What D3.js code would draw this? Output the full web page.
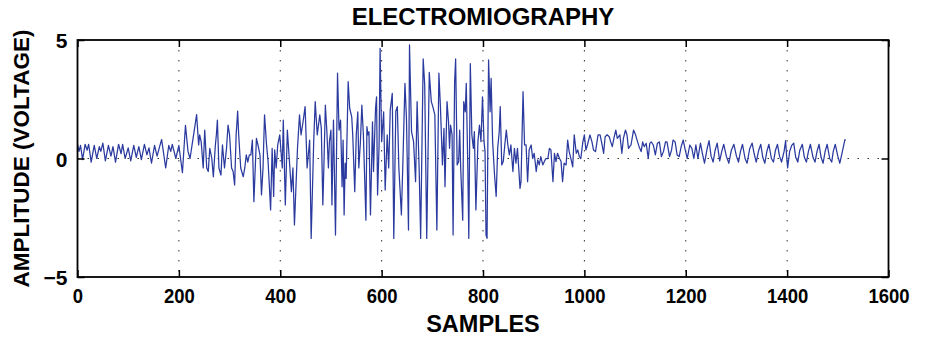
<!DOCTYPE html>
<html>
<head>
<meta charset="utf-8">
<script src="https://cdn.jsdelivr.net/npm/d3@7"></script>
<style>
  body { margin: 0; background: #fff; }
  svg text { font-family: "Liberation Sans", Arial, Helvetica, sans-serif; font-weight: bold; fill: #000; }
</style>
</head>
<body>
<svg width="927" height="338"></svg>
<script>
// labels
var chartTitle = "ELECTROMIOGRAPHY",
	xLabel = "SAMPLES",
	yLabel = "AMPLITUDE (VOLTAGE)";

var xTicks = [0, 200, 400, 600, 800, 1000, 1200, 1400, 1600],
	yTicks = [-5, 0, 5];

// [sample, amplitude], segment by segment
var restStart = [[0,0.6],[3,0.3],[6,0.55],[10,-0.05],[15,0.6],[19,0.35],[22,0.6],[27,-0.15],[33,0.55],[38,0],
	[43,0.5],[46,0.3],[50,0.65],[55,-0.1],[61,0.55],[66,0.1],[70,0.5],[75,-0.15],[81,0.6],[86,0.2],
	[89,0.6],[94,0],[100,0.45],[105,-0.1],[111,0.55],[116,0.05],[121,0.5],[126,-0.05],[132,0.6],[137,0.15],
	[141,0.45],[146,-0.2],[152,0.55],[157,0.1],[162,0.5],[166,0.8],[170,0.2],[174,-0.4],[180,0.55],[184,0.3],
	[187,0.6],[194,0],[200,0.55],[207,-0.6]];

var burst = [[213,1.4],[218,0.3],[222,0],[228,0.85],[235,1.85],[239,0.57],[241,1.0],[244,0.7],[248,-0.4],[251,1.2],
	[255,-0.4],[258,-0.55],[261,0.43],[265,0],[268,-0.77],[272,0.57],[274,1.0],[276,1.62],[279,-0.4],[283,-0.7],
	[286,0.57],[290,-0.4],[294,0.43],[297,1.41],[300,1.0],[304,-0.4],[307,-0.55],[310,-1.12],[313,1.0],[316,2.0],
	[318,1.0],[322,-0.4],[327,-0.77],[330,-0.4],[333,0.15],[336,-0.15],[339,0.15],[342,0.15],[345,0.78],[348,-1.82],
	[353,0.85],[356,0.57],[360,0.15],[363,-1.54],[366,-0.4],[369,1.84],[373,0.57],[376,-0.13],[381,-2.17],[384,0.43],
	[387,-1.6],[389,0.36],[392,-0.4],[395,0.57],[399,1.0],[404,-0.4],[406,1.62],[410,-1.96],[414,1.2],[419,-0.4],
	[422,-1.4],[425,-0.4],[428,-2.8],[434,0.43],[438,1.84],[441,1.0],[445,1.55],[449,2.19],[453,-0.4],[458,0.78],
	[461,-3.37],[466,0.71],[469,2.4],[473,1.0],[478,1.84],[481,1.27],[484,-1.96],[486,-0.4],[489,2.25],[492,1.13],
	[495,-0.4],[497,0.71],[500,1.2],[502,-1.96],[505,1.62],[509,-3.23],[513,3.6],[516,1.2],[519,1.62],[522,-1.19],
	[524,0.78],[526,-2.38],[528,-0.2],[530,-0.84],[534,3.24],[537,2.12],[541,1.76],[543,1.0],[547,-1.4],[550,1.0],
	[553,1.97],[555,-0.4],[558,0.64],[561,2.25],[564,1.0],[569,-2.6],[571,1.34],[573,1.0],[575,1.13],[578,-2.38],
	[582,1.55],[584,-0.55],[588,2.12],[590,2.6],[592,-1.54],[595,0.57],[597,4.65],[600,0.71],[604,1.97],[607,-1.33],
	[611,1.0],[614,-0.4],[617,2.05],[621,2.75],[624,-3.37],[628,2.0],[631,2.19],[634,-0.4],[639,-2.38],[642,-0.13],
	[646,3.17],[649,1.69],[653,-3.02],[655,4.79],[659,1.13],[663,0.71],[667,-0.98],[670,2.4],[674,-0.4],[677,-3.37],
	[682,4.2],[685,3.1],[689,-3.37],[694,3.63],[698,2.4],[701,2.19],[705,1.84],[709,-3.02],[713,3.6],[716,2.19],
	[720,-0.27],[723,1.27],[725,-1.19],[729,2.4],[732,1.55],[734,0.43],[736,1.41],[739,1.0],[741,-3.23],[744,3.24],
	[746,4.2],[749,-0.27],[752,-0.13],[754,1.2],[756,-0.4],[760,-2.6],[762,2.4],[765,1.97],[767,3.17],[770,-0.34],
	[772,-3.37],[775,4.0],[778,1.0],[781,0.43],[783,1.13],[786,-2.17],[790,0.71],[793,1.41],[796,0.71],[799,2.6],
	[802,0.71],[804,0.29],[806,-3.23],[808,-3.37],[811,4.16],[814,1.97],[816,3.38],[819,0.71],[823,-0.77],[826,-1.6],
	[829,0.43],[832,1.13],[834,2.19],[837,-0.27],[840,-0.13],[843,0.57],[846,1.2],[849,0.57],[852,0.15],[855,0.57],
	[859,-0.55],[862,0.43],[865,-0.2],[868,0.43],[873,-1.26],[875,-0.98],[879,2.82],[882,0.57],[885,0.57],[888,-0.98],
	[891,0.36],[895,0.57],[898,0],[901,0.22],[905,-0.55],[908,-0.06],[911,-0.27],[914,0.08],[918,-0.27],[921,-0.13],
	[924,0],[928,0],[931,0.43],[934,0.36],[938,-0.98],[941,0.22],[944,-0.13],[947,0.22],[951,0],[954,-0.13],
	[957,-0.98],[960,-0.2],[964,-0.27],[967,0.78],[970,0.29],[974,-0.06],[977,-0.35]];

var plateau = [[980,1.0],[984,0.22],[987,0.36],[990,0.08],[993,0],[997,0.7],[1000,1.0],[1003,0.36],[1006,0.57],[1011,1.0],
	[1015,0.7],[1018,0.36],[1022,0.29],[1027,1.0],[1031,1.0],[1035,0.57],[1038,0.22],[1041,0.92],[1045,1.0],[1049,0.92],
	[1052,0.7],[1055,0.5],[1059,0.92],[1062,1.2],[1065,0.85],[1070,1.0],[1074,0.22],[1077,0.85],[1081,1.2],[1084,1.0],
	[1087,0.43],[1092,0.57],[1097,1.2],[1101,1.0],[1105,0.7],[1108,0.5],[1112,0.29],[1115,0.7],[1118,0.5],[1122,0.64],
	[1126,0],[1129,0.64],[1132,0.7],[1136,0.57],[1140,0.15],[1144,0.64],[1148,0.7],[1152,0.08],[1156,0.29],[1160,0.7],
	[1163,0.7],[1168,0.08],[1172,0.36],[1175,0.78],[1179,0.7],[1183,0.15],[1187,0.08],[1191,0.5],[1195,0.78],[1199,0.36],
	[1203,0],[1208,0.57],[1212,0.43],[1216,0],[1220,0.57],[1224,0]];

var restEnd = [[1229,0.65],[1233,0.2],[1237,-0.2],[1242,0.4],[1246,0.75],[1250,0.1],[1254,-0.15],[1258,0.35],[1262,0.65],[1267,-0.1],
	[1271,0.3],[1275,0.6],[1280,0.1],[1285,-0.2],[1290,0.35],[1295,0.6],[1300,0.1],[1304,-0.15],[1308,0.3],[1312,0.6],
	[1317,0],[1321,-0.2],[1326,0.4],[1331,0.65],[1335,0.2],[1339,-0.15],[1344,0.35],[1348,0.6],[1352,0.05],[1356,-0.2],
	[1360,0.3],[1364,0.6],[1369,0],[1373,-0.15],[1377,0.35],[1381,0.6],[1385,0.1],[1389,-0.15],[1394,0.3],[1397,0.75],
	[1399,0.1],[1401,-0.4],[1405,0.3],[1409,0.55],[1413,0.65],[1417,0.05],[1421,-0.15],[1425,0.35],[1430,0.6],[1434,0.05],
	[1438,-0.15],[1442,0.3],[1446,0.6],[1451,0.05],[1455,-0.15],[1459,0.3],[1463,0.6],[1467,0.05],[1471,-0.2],[1475,0.3],
	[1479,0.6],[1484,0],[1488,-0.15],[1491,0.3],[1495,0.6],[1500,0.1],[1504,-0.2],[1508,0.2],[1512,0.6],[1514,0.8],[1515,0.75]];

var signal = restStart.concat(burst, plateau, restEnd);

var svg = d3.select("svg"),
	margin = {top: 40, right: 38.5, bottom: 61, left: 77.5},
	width = +svg.attr("width") - margin.left - margin.right,
	height = +svg.attr("height") - margin.top - margin.bottom;

var x = d3.scaleLinear().domain([0, 1600]).range([0, width]),
	y = d3.scaleLinear().domain([-5, 5]).range([height, 0]);

var g = svg.append("g")
	.attr("transform", "translate(" + margin.left + "," + margin.top + ")");

// dotted grid (matlab style)
g.selectAll(".vgrid")
	.data(xTicks.filter(function(d) { return d > 0 && d < 1600; }))
	.enter().append("line")
	.attr("x1", function(d) { return x(d); })
	.attr("x2", function(d) { return x(d); })
	.attr("y1", 0)
	.attr("y2", height)
	.attr("stroke", "#333")
	.attr("stroke-width", 1)
	.attr("stroke-dasharray", "1.5,8.5");

g.selectAll(".hgrid")
	.data(yTicks.filter(function(d) { return d > -5 && d < 5; }))
	.enter().append("line")
	.attr("x1", 0)
	.attr("x2", width)
	.attr("y1", function(d) { return y(d); })
	.attr("y2", function(d) { return y(d); })
	.attr("stroke", "#333")
	.attr("stroke-width", 1)
	.attr("stroke-dasharray", "1.5,8.5");

// signal
var line = d3.line()
	.x(function(d) { return x(d[0]); })
	.y(function(d) { return y(d[1]); });

g.append("path")
	.datum(signal)
	.attr("fill", "none")
	.attr("stroke", "#2a3a9f")
	.attr("stroke-width", 1.25)
	.attr("stroke-linejoin", "round")
	.attr("d", line);

// axes, ticks pointing inward
g.append("g")
	.attr("transform", "translate(0," + height + ")")
	.call(d3.axisBottom(x).tickValues(xTicks).tickSize(-7).tickPadding(11).tickFormat(d3.format("d")))
	.selectAll("text")
	.attr("transform", "scale(0.88,1)");

g.append("g")
	.call(d3.axisTop(x).tickValues(xTicks).tickSize(-7).tickFormat(""));

g.append("g")
	.call(d3.axisLeft(y).tickValues(yTicks).tickSize(-7).tickPadding(10).tickFormat(d3.format("d")))
	.selectAll("text")
	.attr("dy", "0.36em");

g.append("g")
	.attr("transform", "translate(" + width + ",0)")
	.call(d3.axisRight(y).tickValues(yTicks).tickSize(-7).tickFormat(""));

g.selectAll(".domain").remove();
g.selectAll(".tick line").attr("stroke", "#000").attr("stroke-width", 1.5);
g.selectAll(".tick text").attr("font-size", 21).attr("fill", "#000");

g.append("rect")
	.attr("width", width)
	.attr("height", height)
	.attr("fill", "none")
	.attr("stroke", "#000")
	.attr("stroke-width", 1.8);

// labels
svg.append("text")
	.attr("x", margin.left + width / 2)
	.attr("y", 25)
	.attr("text-anchor", "middle")
	.attr("font-size", 24)
	.text(chartTitle);

svg.append("text")
	.attr("x", margin.left + width / 2)
	.attr("y", 332)
	.attr("text-anchor", "middle")
	.attr("font-size", 23.5)
	.text(xLabel);

svg.append("text")
	.attr("transform", "translate(29," + (margin.top + height / 2) + ") rotate(-90)")
	.attr("text-anchor", "middle")
	.attr("font-size", 22.5)
	.text(yLabel);
</script>
</body>
</html>
